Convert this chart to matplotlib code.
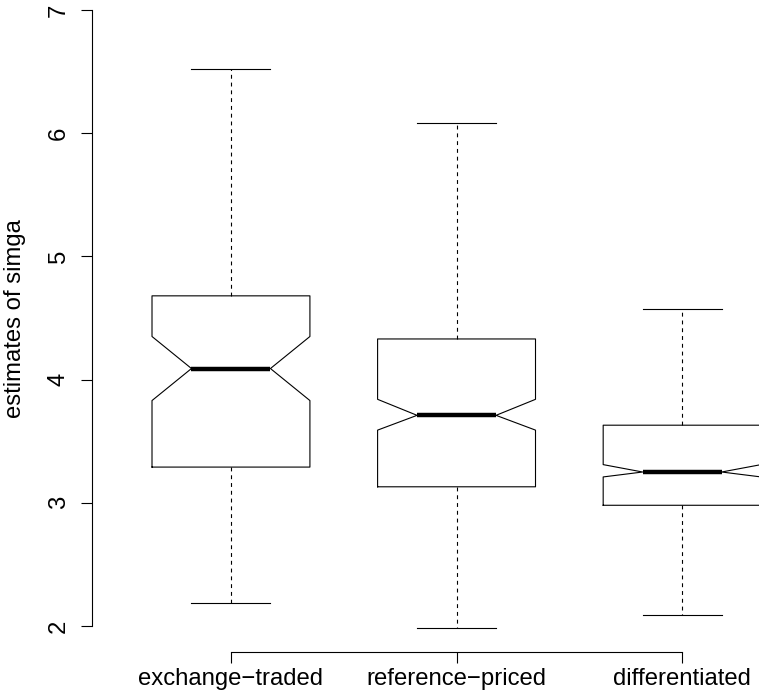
import matplotlib
matplotlib.use('Agg')
import matplotlib.pyplot as plt

# values
categories = ['exchange\u2212traded', 'reference\u2212priced', 'differentiated']
whislo = [2.19, 1.98, 2.09]
q1 = [3.29, 3.13, 2.98]
med = [4.09, 3.71, 3.25]
q3 = [4.68, 4.33, 3.63]
whishi = [6.52, 6.08, 4.57]
notch_lo = [3.83, 3.59, 3.21]
notch_hi = [4.35, 3.84, 3.31]
yticks = [2, 3, 4, 5, 6, 7]

plt.rcParams['font.family'] = ['Liberation Sans', 'DejaVu Sans']

W, H = 759, 695
fig = plt.figure(figsize=(W / 100, H / 100), dpi=100)

# plot region in pixels (R style, extends past the right/top edge)
left_px, right_px = 92, 822
top_px, bottom_px = -14.6, 651.5
ax = fig.add_axes([left_px / W, (H - bottom_px) / H,
                   (right_px - left_px) / W, (bottom_px - top_px) / H])

stats = []
for i, name in enumerate(categories):
    stats.append(dict(label=name, med=med[i], q1=q1[i], q3=q3[i],
                      whislo=whislo[i], whishi=whishi[i],
                      cilo=notch_lo[i], cihi=notch_hi[i], fliers=[]))

lw = 0.8
ax.bxp(stats, positions=[1, 2, 3], widths=0.7, shownotches=True, showfliers=False,
       boxprops=dict(color='black', linewidth=lw),
       whiskerprops=dict(color='black', linewidth=lw, linestyle=(0, (3.5, 3.5))),
       capprops=dict(color='black', linewidth=lw),
       medianprops=dict(color='black', linewidth=3.2, solid_capstyle='butt'))

ax.set_xlim(0.384, 3.62)
ax.set_ylim(1.793, 7.2)

# R-like axes: no box, spines only over the tick range
for side in ['top', 'right']:
    ax.spines[side].set_visible(False)
ax.spines['left'].set_bounds(2, 7)
ax.spines['bottom'].set_bounds(1, 3)
for side in ['left', 'bottom']:
    ax.spines[side].set_linewidth(lw)

fs = 17.2
ax.set_yticks(yticks)
ax.set_yticklabels([str(v) for v in yticks], rotation=90, va='center')
ax.set_xticks([1, 2, 3])
ax.set_xticklabels(categories)
ax.tick_params(direction='out', length=8, width=lw, labelsize=fs)
ax.tick_params(axis='x', pad=4)
ax.tick_params(axis='y', pad=8)

ax.set_ylabel('estimates of simga', fontsize=fs, labelpad=16)
ax.patch.set_visible(False)

fig.savefig('out.png', dpi=100, facecolor='white')
